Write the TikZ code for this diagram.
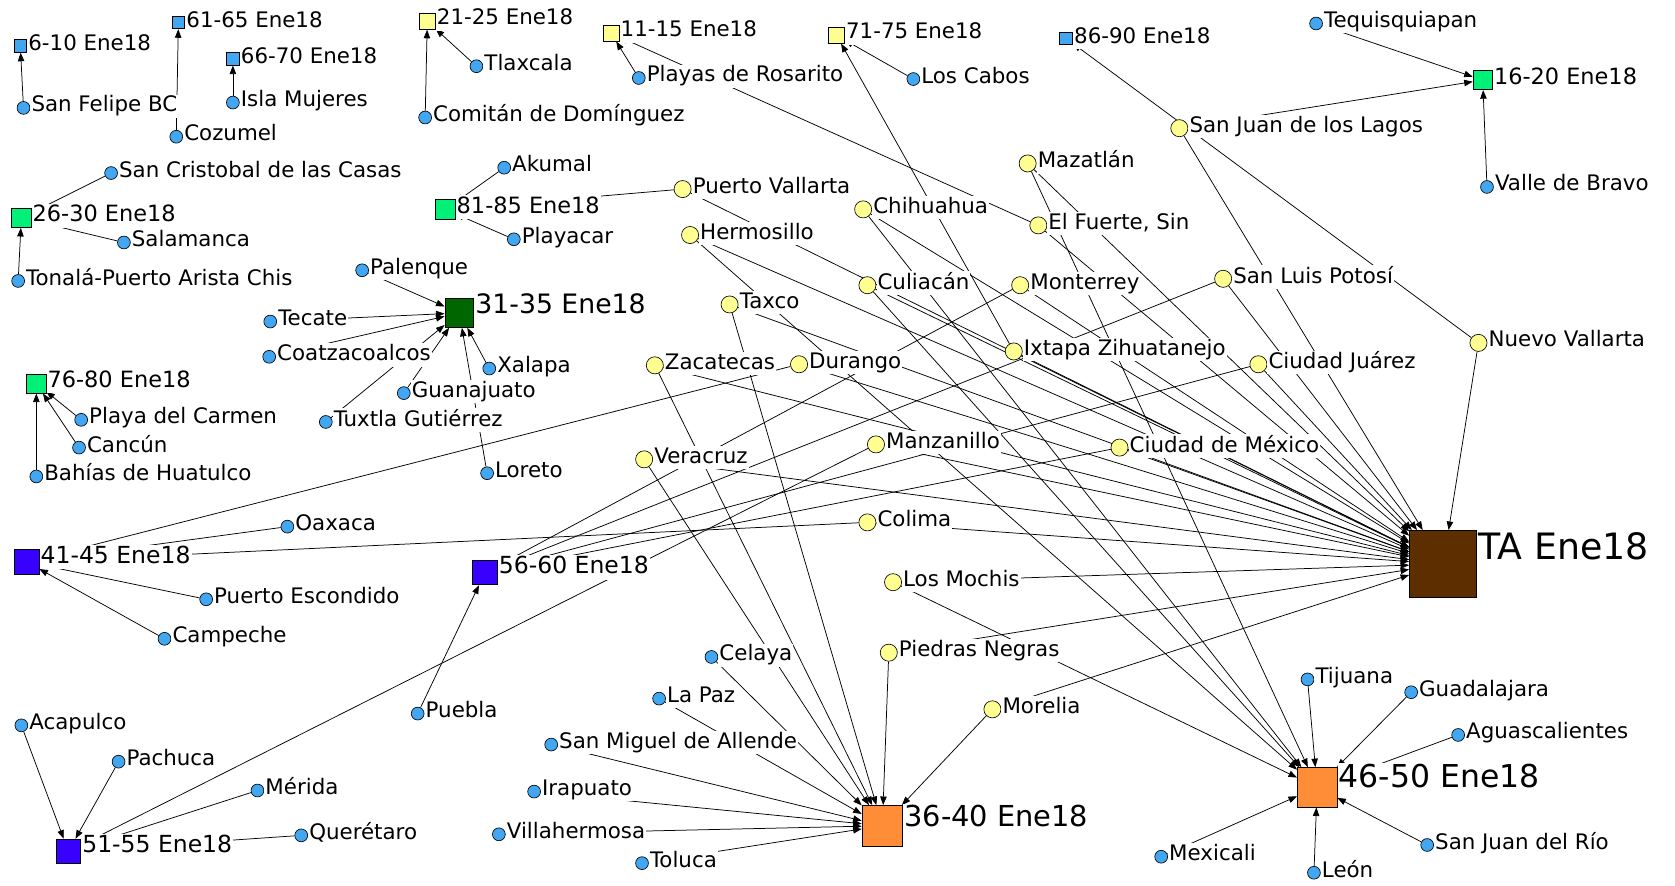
\documentclass[tikz,border=0pt]{standalone}
\usepackage{fontspec}
\setmainfont{DejaVu Sans}
\usetikzlibrary{arrows.meta,backgrounds}
\tikzset {>={Triangle[length=8pt,width=6pt]}}

\definecolor{cityblue}{RGB}{66,166,240}
\definecolor{hubyellow}{RGB}{255,255,145}
\definecolor{pgreen}{RGB}{0,240,120}
\definecolor{pdkgreen}{RGB}{0,102,0}
\definecolor{pviolet}{RGB}{55,0,255}
\definecolor{porange}{RGB}{255,140,55}
\definecolor{pbrown}{RGB}{92,46,0}

\tikzset{
  city/.style={circle, draw, fill=cityblue, minimum size=12, inner sep=0pt, line width=0.6pt},
  hub/.style={circle, draw, fill=hubyellow, minimum size=16, inner sep=0pt, line width=0.6pt},
  period/.style={rectangle, draw, inner sep=0pt, line width=0.7pt},
  clab/.style={fill=white, inner sep=1pt, yshift=1.65pt,
    font=\fontsize{20}{24}\selectfont, execute at begin node={\rule[-.22em]{0pt}{.97em}}},
  plab/.style={fill=white, inner sep=1pt,
    font=\fontsize{#1}{#1}\selectfont, execute at begin node={\rule[-.22em]{0pt}{.97em}}},
  plab/.default=20,
  link/.style={->, line width=0.7pt}
}

\begin{document}
\begin{tikzpicture}[x=1pt,y=-1pt]
\useasboundingbox (0,0) rectangle (1568,829);

% Periods (squares)
\node[period, minimum size=12, fill=cityblue, label={[plab, yshift=1pt]east:6-10 Ene18}] (p6) at (19,43) {};
\node[period, minimum size=12, fill=cityblue, label={[plab, yshift=1pt]east:61-65 Ene18}] (p61) at (167,21) {};
\node[period, minimum size=12, fill=cityblue, label={[plab, yshift=1pt]east:66-70 Ene18}] (p66) at (218,55) {};
\node[period, minimum size=12, fill=cityblue, label={[plab, yshift=1pt]east:86-90 Ene18}] (p86) at (998,36) {};
\node[period, minimum size=15, fill=hubyellow, label={[plab, yshift=1.9pt]east:21-25 Ene18}] (p21) at (400,20) {};
\node[period, minimum size=15, fill=hubyellow, label={[plab, yshift=1.9pt]east:11-15 Ene18}] (p11) at (572,31) {};
\node[period, minimum size=15, fill=hubyellow, label={[plab, yshift=1.9pt]east:71-75 Ene18}] (p71) at (783,33) {};
\node[period, minimum size=18, fill=pgreen, label={[plab=21, yshift=1.9pt]east:26-30 Ene18}] (p26) at (20,204) {};
\node[period, minimum size=18, fill=pgreen, label={[plab=21, yshift=1.9pt]east:76-80 Ene18}] (p76) at (34,359) {};
\node[period, minimum size=18, fill=pgreen, label={[plab=21, yshift=1.9pt]east:81-85 Ene18}] (p81) at (417,196) {};
\node[period, minimum size=18, fill=pgreen, label={[plab=21, yshift=1.9pt]east:16-20 Ene18}] (p16) at (1388,75) {};
\node[period, minimum size=27, fill=pdkgreen, label={[plab=25, yshift=6.5pt]east:31-35 Ene18}] (p31) at (430,293) {};
\node[period, minimum size=23, fill=pviolet, label={[plab=22, yshift=4.6pt]east:41-45 Ene18}] (p41) at (25,526) {};
\node[period, minimum size=23, fill=pviolet, label={[plab=22, yshift=4.6pt]east:51-55 Ene18}] (p51) at (64,797) {};
\node[period, minimum size=23, fill=pviolet, label={[plab=22, yshift=4.6pt]east:56-60 Ene18}] (p56) at (454,536) {};
\node[period, minimum size=38, fill=porange, label={[plab=27, yshift=6.1pt]east:36-40 Ene18}] (p36) at (826,773) {};
\node[period, minimum size=37, fill=porange, label={[plab=29.5, yshift=7.6pt]east:46-50 Ene18}] (p46) at (1233,737) {};
\node[period, minimum size=63, fill=pbrown, label={[plab=34, yshift=13pt]east:TA Ene18}] (ta) at (1351,528) {};

% Destinations seen once (blue)
\node[city, label={[clab]east:San Felipe BC}] (sanfelipe) at (22,101) {};
\node[city, label={[clab]east:Cozumel}] (cozumel) at (165,128) {};
\node[city, label={[clab]east:Isla Mujeres}] (islamujeres) at (218,96) {};
\node[city, label={[clab]east:Tlaxcala}] (tlaxcala) at (446,62) {};
\node[city, label={[clab]east:Comitán de Domínguez}] (comitan) at (398,110) {};
\node[city, label={[clab]east:Playas de Rosarito}] (rosarito) at (598,73) {};
\node[city, label={[clab]east:Los Cabos}] (loscabos) at (855,74) {};
\node[city, label={[clab]east:Tequisquiapan}] (tequis) at (1232,22) {};
\node[city, label={[clab]east:Valle de Bravo}] (vallebravo) at (1392,175) {};
\node[city, label={[clab]east:San Cristobal de las Casas}] (sancristobal) at (104,162) {};
\node[city, label={[clab]east:Salamanca}] (salamanca) at (116,227) {};
\node[city, label={[clab]east:Tonalá-Puerto Arista Chis}] (tonala) at (17,263) {};
\node[city, label={[clab]east:Akumal}] (akumal) at (472,157) {};
\node[city, label={[clab]east:Playacar}] (playacar) at (481,224) {};
\node[city, label={[clab]east:Palenque}] (palenque) at (339,253) {};
\node[city, label={[clab]east:Tecate}] (tecate) at (253,301) {};
\node[city, label={[clab]east:Coatzacoalcos}] (coatza) at (252,334) {};
\node[city, label={[clab]east:Xalapa}] (xalapa) at (458,345) {};
\node[city, label={[clab]east:Guanajuato}] (guanajuato) at (378,368) {};
\node[city, label={[clab]east:Tuxtla Gutiérrez}] (tuxtla) at (305,395) {};
\node[city, label={[clab]east:Loreto}] (loreto) at (456,443) {};
\node[city, label={[clab]east:Playa del Carmen}] (playacarmen) at (76,393) {};
\node[city, label={[clab]east:Cancún}] (cancun) at (74,419) {};
\node[city, label={[clab]east:Bahías de Huatulco}] (bahias) at (34,446) {};
\node[city, label={[clab]east:Oaxaca}] (oaxaca) at (269,493) {};
\node[city, label={[clab]east:Puerto Escondido}] (pescondido) at (193,561) {};
\node[city, label={[clab]east:Campeche}] (campeche) at (154,598) {};
\node[city, label={[clab]east:Puebla}] (puebla) at (391,668) {};
\node[city, label={[clab]east:Acapulco}] (acapulco) at (20,679) {};
\node[city, label={[clab]east:Pachuca}] (pachuca) at (111,713) {};
\node[city, label={[clab]east:Mérida}] (merida) at (241,740) {};
\node[city, label={[clab]east:Querétaro}] (queretaro) at (282,782) {};
\node[city, label={[clab]east:Celaya}] (celaya) at (666,615) {};
\node[city, label={[clab]east:La Paz}] (lapaz) at (617,654) {};
\node[city, label={[clab]east:San Miguel de Allende}] (sanmiguel) at (516,697) {};
\node[city, label={[clab]east:Irapuato}] (irapuato) at (500,741) {};
\node[city, label={[clab]east:Villahermosa}] (villahermosa) at (467,781) {};
\node[city, label={[clab]east:Toluca}] (toluca) at (601,808) {};
\node[city, label={[clab]east:Tijuana}] (tijuana) at (1224,636) {};
\node[city, label={[clab]east:Guadalajara}] (guadalajara) at (1321,648) {};
\node[city, label={[clab]east:Aguascalientes}] (aguas) at (1365,688) {};
\node[city, label={[clab]east:San Juan del Río}] (sjrio) at (1336,791) {};
\node[city, label={[clab]east:León}] (leon) at (1230,817) {};
\node[city, label={[clab]east:Mexicali}] (mexicali) at (1087,802) {};

% Destinations seen twice (yellow)
\node[hub, label={[clab]east:San Juan de los Lagos}] (sjlagos) at (1104,120) {};
\node[hub, label={[clab]east:Mazatlán}] (mazatlan) at (962,153) {};
\node[hub, label={[clab]east:Puerto Vallarta}] (pvallarta) at (639,177) {};
\node[hub, label={[clab]east:Chihuahua}] (chihuahua) at (808,196) {};
\node[hub, label={[clab]east:{El Fuerte, Sin}}] (elfuerte) at (972,211) {};
\node[hub, label={[clab]east:Hermosillo}] (hermosillo) at (646,220) {};
\node[hub, label={[clab]east:Culiacán}] (culiacan) at (812,267) {};
\node[hub, label={[clab]east:Monterrey}] (monterrey) at (955,267) {};
\node[hub, label={[clab]east:San Luis Potosí}] (slp) at (1145,261) {};
\node[hub, label={[clab]east:Taxco}] (taxco) at (683,285) {};
\node[hub, label={[clab]east:Ixtapa Zihuatanejo}] (ixtapa) at (949,329) {};
\node[hub, label={[clab]east:Nuevo Vallarta}] (nvallarta) at (1384,321) {};
\node[hub, label={[clab]east:Zacatecas}] (zacatecas) at (613,342) {};
\node[hub, label={[clab]east:Durango}] (durango) at (748,341) {};
\node[hub, label={[clab]east:Ciudad Juárez}] (cjuarez) at (1178,341) {};
\node[hub, label={[clab]east:Veracruz}] (veracruz) at (603,430) {};
\node[hub, label={[clab]east:Manzanillo}] (manzanillo) at (820,416) {};
\node[hub, label={[clab]east:Ciudad de México}] (cdmx) at (1048,419) {};
\node[hub, label={[clab]east:Colima}] (colima) at (812,489) {};
\node[hub, label={[clab]east:Los Mochis}] (losmochis) at (836,545) {};
\node[hub, label={[clab]east:Piedras Negras}] (pnegras) at (832,611) {};
\node[hub, label={[clab]east:Morelia}] (morelia) at (929,664) {};

\begin{pgfonlayer}{background}
\fill[white] (0,0) rectangle (1568,829);

% Single links
\draw[link] (sanfelipe) -- (p6);
\draw[link] (cozumel) -- (p61);
\draw[link] (islamujeres) -- (p66);
\draw[link] (tlaxcala) -- (p21);
\draw[link] (comitan) -- (p21);
\draw[link] (rosarito) -- (p11);
\draw[link] (loscabos) -- (p71);
\draw[link] (tequis) -- (p16);
\draw[link] (vallebravo) -- (p16);
\draw[link] (sancristobal) -- (p26);
\draw[link] (salamanca) -- (p26);
\draw[link] (tonala) -- (p26);
\draw[link] (akumal) -- (p81);
\draw[link] (playacar) -- (p81);
\draw[link] (palenque) -- (p31);
\draw[link] (tecate) -- (p31);
\draw[link] (coatza) -- (p31);
\draw[link] (xalapa) -- (p31);
\draw[link] (guanajuato) -- (p31);
\draw[link] (tuxtla) -- (p31);
\draw[link] (loreto) -- (p31);
\draw[link] (playacarmen) -- (p76);
\draw[link] (cancun) -- (p76);
\draw[link] (bahias) -- (p76);
\draw[link] (oaxaca) -- (p41);
\draw[link] (pescondido) -- (p41);
\draw[link] (campeche) -- (p41);
\draw[link] (puebla) -- (p56);
\draw[link] (acapulco) -- (p51);
\draw[link] (pachuca) -- (p51);
\draw[link] (merida) -- (p51);
\draw[link] (queretaro) -- (p51);
\draw[link] (celaya) -- (p36);
\draw[link] (lapaz) -- (p36);
\draw[link] (sanmiguel) -- (p36);
\draw[link] (irapuato) -- (p36);
\draw[link] (villahermosa) -- (p36);
\draw[link] (toluca) -- (p36);
\draw[link] (tijuana) -- (p46);
\draw[link] (guadalajara) -- (p46);
\draw[link] (aguas) -- (p46);
\draw[link] (sjrio) -- (p46);
\draw[link] (leon) -- (p46);
\draw[link] (mexicali) -- (p46);

% Double links: one period plus TA
\draw[link] (sjlagos) -- (p16);
\draw[link] (mazatlan) -- (p46);
\draw[link] (pvallarta) -- (p81);
\draw[link] (chihuahua) -- (p46);
\draw[link] (elfuerte) -- (p11);
\draw[link] (hermosillo) -- (p46);
\draw[link] (culiacan) -- (p46);
\draw[link] (monterrey) -- (p56);
\draw[link] (slp) -- (p56);
\draw[link] (taxco) -- (p36);
\draw[link] (ixtapa) -- (p71);
\draw[link] (nvallarta) -- (p86);
\draw[link] (zacatecas) -- (p36);
\draw[link] (durango) -- (p41);
\draw[link] (cjuarez) -- (p56);
\draw[link] (veracruz) -- (p36);
\draw[link] (manzanillo) -- (p51);
\draw[link] (cdmx) -- (p56);
\draw[link] (colima) -- (p41);
\draw[link] (losmochis) -- (p46);
\draw[link] (pnegras) -- (p36);
\draw[link] (morelia) -- (p36);

\draw[link] (sjlagos) -- (ta);
\draw[link] (mazatlan) -- (ta);
\draw[link] (pvallarta) -- (ta);
\draw[link] (chihuahua) -- (ta);
\draw[link] (elfuerte) -- (ta);
\draw[link] (hermosillo) -- (ta);
\draw[link] (culiacan) -- (ta);
\draw[link] (monterrey) -- (ta);
\draw[link] (slp) -- (ta);
\draw[link] (taxco) -- (ta);
\draw[link] (ixtapa) -- (ta);
\draw[link] (nvallarta) -- (ta);
\draw[link] (zacatecas) -- (ta);
\draw[link] (durango) -- (ta);
\draw[link] (cjuarez) -- (ta);
\draw[link] (veracruz) -- (ta);
\draw[link] (manzanillo) -- (ta);
\draw[link] (cdmx) -- (ta);
\draw[link] (colima) -- (ta);
\draw[link] (losmochis) -- (ta);
\draw[link] (pnegras) -- (ta);
\draw[link] (morelia) -- (ta);
\end{pgfonlayer}

\end{tikzpicture}
\end{document}
